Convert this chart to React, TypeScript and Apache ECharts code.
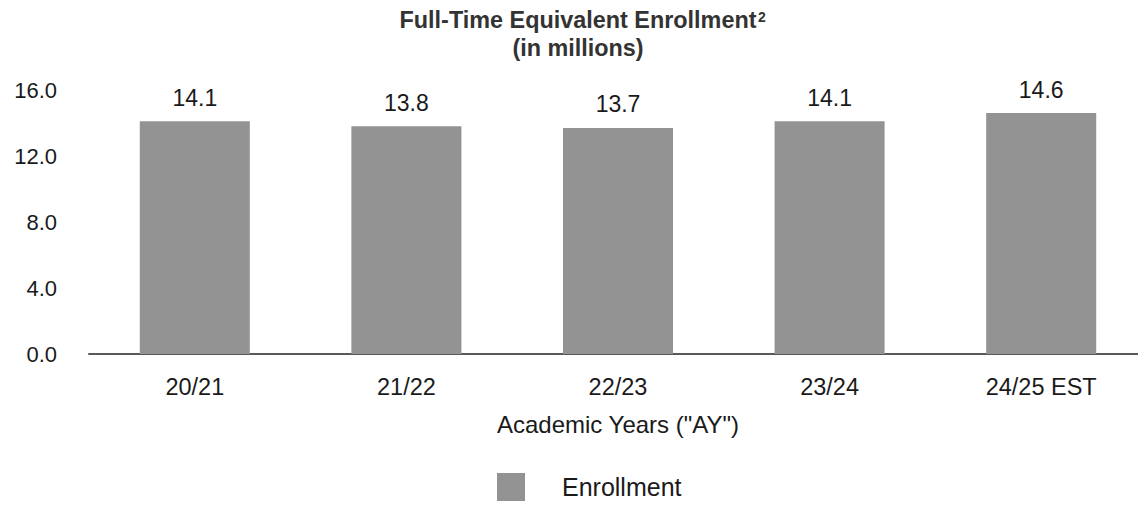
import React, { useEffect, useRef } from "react";
import * as echarts from "echarts";

// Academic years and full-time equivalent enrollment (millions)
const years = ["20/21", "21/22", "22/23", "23/24", "24/25 EST"];
const enrollment = [14.1, 13.8, 13.7, 14.1, 14.6];
const yTicks = [0, 4, 8, 12, 16];

const FONT = "'Liberation Sans', Arial, Helvetica, sans-serif";
const INK = "#1a1a1a";

export default function App() {
  const ref = useRef<HTMLDivElement>(null);

  useEffect(() => {
    if (!ref.current) return;
    const chart = echarts.init(ref.current, null, { renderer: "svg" });
    chart.setOption({
      animation: false,
      backgroundColor: "#ffffff",
      textStyle: { fontFamily: FONT },
      graphic: [
        {
          type: "text",
          x: 578,
          y: 6,
          style: {
            text: "Full-Time Equivalent Enrollment\n(in millions)",
            textAlign: "center",
            textVerticalAlign: "top",
            font: `bold 23.4px ${FONT}`,
            lineHeight: 28,
            fill: "#333333",
          },
        },
        {
          // footnote marker after the first title line
          type: "text",
          x: 758,
          y: 10,
          style: {
            text: "2",
            textAlign: "left",
            textVerticalAlign: "top",
            font: `bold 14px ${FONT}`,
            fill: "#333333",
          },
        },
      ],
      legend: {
        data: ["Enrollment"],
        left: 497,
        top: 473,
        padding: 0,
        itemWidth: 28,
        itemHeight: 28,
        icon: "rect",
        textStyle: {
          fontSize: 25,
          color: INK,
          fontFamily: FONT,
          padding: [0, 0, 0, 32],
        },
      },
      grid: {
        left: 89,
        top: 90,
        width: 1058,
        height: 264,
        containLabel: false,
      },
      xAxis: {
        type: "category",
        data: years,
        axisLine: { show: true, lineStyle: { color: "#595959", width: 2 } },
        axisTick: { show: false },
        axisLabel: {
          fontSize: 23.5,
          color: INK,
          margin: 21,
          fontFamily: FONT,
        },
        name: 'Academic Years ("AY")',
        nameLocation: "middle",
        nameGap: 58,
        nameTextStyle: { fontSize: 24, color: INK, fontFamily: FONT },
      },
      yAxis: {
        type: "value",
        min: 0,
        max: 16,
        interval: 4,
        splitLine: { show: false },
        axisLine: { show: false },
        axisTick: { show: false },
        axisLabel: {
          fontSize: 22,
          color: INK,
          margin: 32,
          fontFamily: FONT,
          formatter: (v: number) => (yTicks.includes(v) ? v.toFixed(1) : ""),
        },
      },
      series: [
        {
          name: "Enrollment",
          type: "bar",
          data: enrollment,
          barWidth: "52%",
          itemStyle: { color: "#939393" },
          label: {
            show: true,
            position: "top",
            distance: 12,
            fontSize: 23,
            color: INK,
            fontFamily: FONT,
            formatter: (p: any) => Number(p.value).toFixed(1),
          },
        },
      ],
    });
    return () => chart.dispose();
  }, []);

  return (
    <div
      style={{
        position: "absolute",
        left: 0,
        top: 0,
        width: 1138,
        height: 506,
        overflow: "hidden",
        background: "#ffffff",
      }}
    >
      <div ref={ref} style={{ width: 1160, height: 506 }} />
    </div>
  );
}
